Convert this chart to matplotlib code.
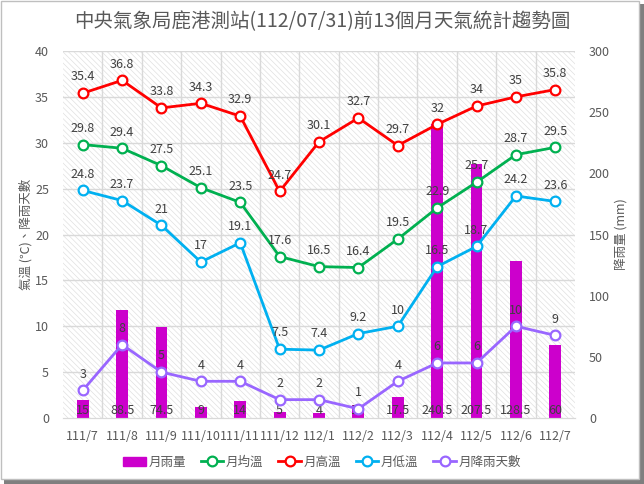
import matplotlib
matplotlib.use("Agg")
import matplotlib.pyplot as plt
from matplotlib.patches import Rectangle, Patch
from matplotlib.lines import Line2D

plt.rcParams['font.family'] = ['Noto Sans CJK TC', 'DejaVu Sans']
plt.rcParams['hatch.color'] = '#e0e0e0'
plt.rcParams['hatch.linewidth'] = 0.5

# data
months = ['111/7', '111/8', '111/9', '111/10', '111/11', '111/12', '112/1',
          '112/2', '112/3', '112/4', '112/5', '112/6', '112/7']
rain_mm = [15, 88.5, 74.5, 9, 14, 5, 4, 11, 17.5, 240.5, 207.5, 128.5, 60]
temp_avg = [29.8, 29.4, 27.5, 25.1, 23.5, 17.6, 16.5, 16.4, 19.5, 22.9, 25.7, 28.7, 29.5]
temp_high = [35.4, 36.8, 33.8, 34.3, 32.9, 24.7, 30.1, 32.7, 29.7, 32, 34, 35, 35.8]
temp_low = [24.8, 23.7, 21, 17, 19.1, 7.5, 7.4, 9.2, 10, 16.5, 18.7, 24.2, 23.6]
rain_days = [3, 8, 5, 4, 4, 2, 2, 1, 4, 6, 6, 10, 9]

txt = '#595959'
lbl = '#404040'
x = list(range(len(months)))

fig = plt.figure(figsize=(6.44, 4.84), dpi=100)
ax = fig.add_axes([63/644, 66/484, 512/644, 367/484])
ax2 = ax.twinx()

# background hatch + grid on the bar axis (bottom layer)
ax2.add_patch(Rectangle((0, 0), 1, 1, transform=ax2.transAxes, facecolor='white',
                        hatch='\\\\\\\\\\\\', edgecolor='#e0e0e0', linewidth=0, zorder=0))
for v in range(5, 41, 5):
    ax2.axhline(v * 7.5, color='#d9d9d9', lw=1, zorder=1)
for b in range(1, len(months)):
    ax2.axvline(b - 0.5, color='#d9d9d9', lw=1, zorder=1)

ax2.bar(x, rain_mm, width=0.3, color='#CC00CC', zorder=2)
for xi, v in zip(x, rain_mm):
    ax2.annotate(f'{v:g}', (xi, 0), xytext=(0, 1), textcoords='offset points',
                 ha='center', va='bottom', fontsize=9, color=lbl, zorder=3)
ax2.set_ylim(0, 300)
ax2.set_yticks(range(0, 301, 50))

ax.set_zorder(ax2.get_zorder() + 1)
ax.patch.set_visible(False)

series = [(temp_avg, '#00B050', '月均溫'),
          (temp_high, '#FF0000', '月高溫'),
          (temp_low, '#00B0F0', '月低溫'),
          (rain_days, '#9966FF', '月降雨天數')]
for vals, c, name in series:
    ax.plot(x, vals, color=c, lw=2, marker='o', ms=7, mfc='white', mec=c, mew=1.6)
    for xi, v in zip(x, vals):
        ax.annotate(f'{v:g}', (xi, v), xytext=(0, 7), textcoords='offset points',
                    ha='center', va='bottom', fontsize=9, color=lbl)

ax.set_xlim(-0.5, len(months) - 0.5)
ax.set_ylim(0, 40)
ax.set_yticks(range(0, 41, 5))
ax.set_xticks(x)
ax.set_xticklabels(months)

for a in (ax, ax2):
    for s in ('left', 'right', 'top'):
        a.spines[s].set_visible(False)
    a.spines['bottom'].set_color('#d9d9d9')
    a.tick_params(length=0, colors=txt, labelsize=9)
ax.tick_params(axis='x', pad=9)
ax.tick_params(axis='y', pad=10)
ax2.tick_params(axis='y', pad=10)

ax.set_ylabel('氣溫 (℃)、降雨天數', color=txt, fontsize=9, labelpad=2)
ax2.set_ylabel('降雨量 (mm)', color=txt, fontsize=9, labelpad=3)

fig.text(0.5, 0.955, '中央氣象局鹿港測站(112/07/31)前13個月天氣統計趨勢圖',
         ha='center', va='center', fontsize=14, color=txt)

handles = [Patch(color='#CC00CC')]
for vals, c, name in series:
    handles.append(Line2D([], [], color=c, lw=2, marker='o', ms=7, mfc='white', mec=c, mew=1.6))
names = ['月雨量'] + [s[2] for s in series]
fig.legend(handles, names, loc='center', bbox_to_anchor=(0.5, 0.045), ncol=5,
           frameon=False, fontsize=9, labelcolor=txt, handlelength=1.8,
           columnspacing=1.2, handletextpad=0.2)

# chart frame with shadow
fig.patches.append(Rectangle((4/644, 0), 640/644, 480/484, transform=fig.transFigure,
                             facecolor='#7f7f7f', edgecolor='none', zorder=-2))
fig.patches.append(Rectangle((0.5/644, 5/484), 638/644, 478.5/484, transform=fig.transFigure,
                             facecolor='white', edgecolor='#bfbfbf', lw=1, zorder=-1))

fig.savefig('out.png', dpi=100)
